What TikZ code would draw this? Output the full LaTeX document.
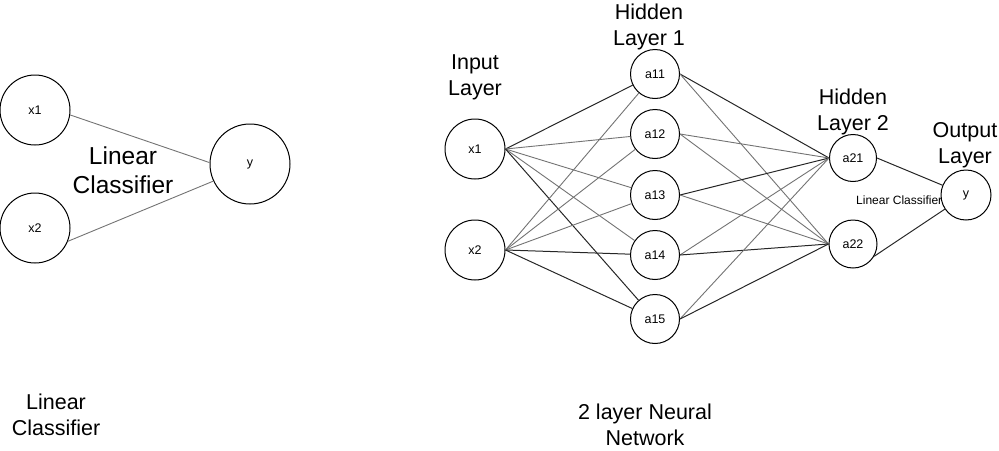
\documentclass[tikz,border=0pt]{standalone}
\usepackage{fontspec}
\setmainfont{Liberation Sans}
\begin{document}
\begin{tikzpicture}[x=1pt,y=-1pt,
  neuron/.style={circle,draw=black,line width=1pt,fill=white,inner sep=0pt,font=\fontsize{12.5}{14}\selectfont},
  bigtxt/.style={align=center,inner sep=0pt,font=\fontsize{21.5}{25.8}\selectfont},
  dk/.style={draw=black!85,line width=1pt},
  lt/.style={draw=black!55,line width=0.9pt}]
\useasboundingbox (0,0) rectangle (999,450);
% left diagram
\node[bigtxt,font=\fontsize{24.5}{28.5}\selectfont] (lc) at (123,170) {Linear\\Classifier};
\node[neuron,minimum size=70pt] (lx1) at (35,110) {x1};
\node[neuron,minimum size=70pt] (lx2) at (35,228) {x2};
\node[neuron,minimum size=80pt] (ly) at (250,164) {y};
\draw[lt] (lx1.-8) -- (ly.178);
\draw[lt] (lx2.-22) -- (ly.205);
\node[bigtxt] (lcap) at (56,415) {Linear\\Classifier};
% right diagram labels
\node[bigtxt] (tin) at (475,77) {Input\\Layer};
\node[bigtxt] (th1) at (649,27) {Hidden\\Layer 1};
\node[bigtxt] (th2) at (853,112) {Hidden\\Layer 2};
\node[bigtxt] (tout) at (965,145) {Output\\Layer};
\node[bigtxt] (tnn) at (645,425) {2 layer Neural\\Network};
\node[anchor=west,inner sep=0pt,font=\fontsize{12}{14}\selectfont] (slc) at (856,200) {Linear Classifier};
% neurons
\node[neuron,minimum size=60pt] (x1) at (475,149) {x1};
\node[neuron,minimum size=60pt] (x2) at (475,250) {x2};
\node[neuron,minimum size=49pt] (a11) at (655,74) {a11};
\node[neuron,minimum size=49pt] (a12) at (655,134) {a12};
\node[neuron,minimum size=49pt] (a13) at (655,195) {a13};
\node[neuron,minimum size=49pt] (a14) at (655,255) {a14};
\node[neuron,minimum size=49pt] (a15) at (655,319) {a15};
\node[neuron,minimum size=47pt] (a21) at (853,158) {a21};
\node[neuron,minimum size=48pt] (a22) at (853,244) {a22};
\node[neuron,minimum size=50pt] (y) at (966,195) {y};
% input -> hidden 1
\draw[dk] (x1.east) -- (a11);
\draw[lt] (x1.east) -- (a12);
\draw[lt] (x1.east) -- (a13);
\draw[lt] (x1.east) -- (a14);
\draw[dk] (x1.east) -- (a15);
\draw[lt] (x2.east) -- (a11);
\draw[lt] (x2.east) -- (a12);
\draw[lt] (x2.east) -- (a13);
\draw[dk] (x2.east) -- (a14);
\draw[dk] (x2.east) -- (a15);
% hidden 1 -> hidden 2
\draw[dk] (a11.east) -- (a21.west);
\draw[lt] (a11.east) -- (a22.west);
\draw[lt] (a12.east) -- (a21.west);
\draw[lt] (a12.east) -- (a22.west);
\draw[dk] (a13.east) -- (a21.west);
\draw[lt] (a13.east) -- (a22.west);
\draw[lt] (a14.east) -- (a21.west);
\draw[dk] (a14.east) -- (a22.west);
\draw[lt] (a15.east) -- (a21.west);
\draw[dk] (a15.east) -- (a22.west);
% hidden 2 -> output
\draw[dk] (a21.east) -- (y);
\draw[dk] (a22.-30) -- (y);
\end{tikzpicture}
\end{document}
